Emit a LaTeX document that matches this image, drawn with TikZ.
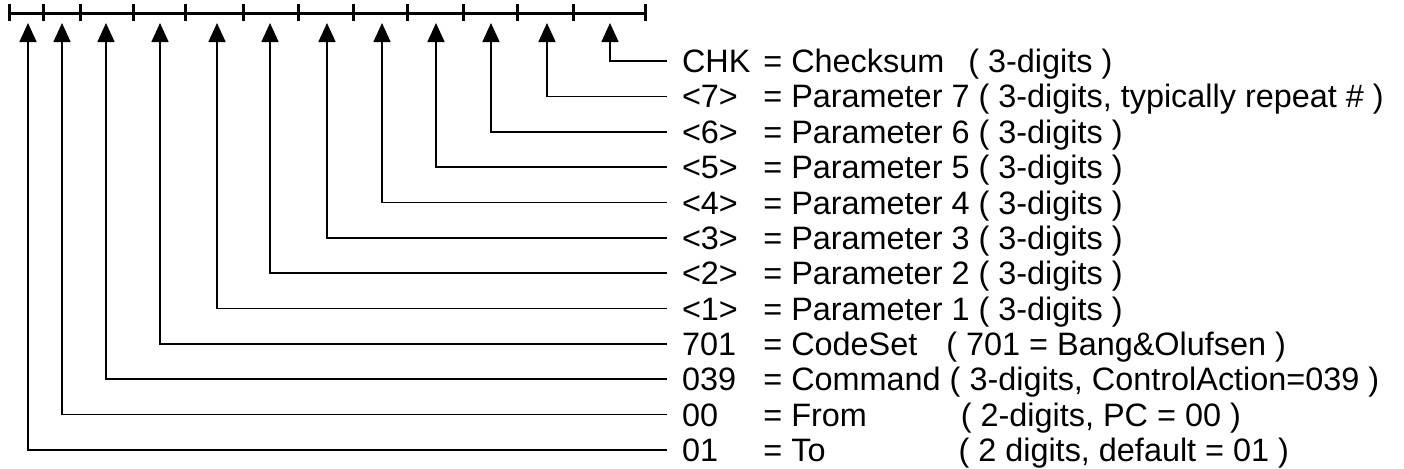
\documentclass[tikz,border=0pt]{standalone}
\usepackage{fontspec}
\setmainfont{Liberation Sans}
\usetikzlibrary{arrows.meta}

\tikzset{
	lbl/.style={anchor=west, inner sep=0pt, text height=11.6pt, text depth=0pt,
		font=\fontsize{16.2}{18}\selectfont},
	code/.style={lbl, outer xsep=7.5pt},
	ptr/.style={-{Triangle[length=9.5pt, width=8.5pt]}, line width=0.85pt},
}

\begin{document}
\begin{tikzpicture}[x=0.5pt, y=-0.5pt]
\useasboundingbox (0,0) rectangle (1404,468);
% ruler
\draw [line width=1.5pt] (9,13) -- (645,13);
\foreach \x in {9,43,80,133,185,243,298,353,407,463,517,573,645}
	\draw [line width=1.5pt] (\x,4) -- (\x,21);
% fields, top to bottom
\foreach \i/\ax/\code/\desc in {
	0/610/CHK/{= Checksum\hspace{12pt}( 3-digits )},
	1/547/{<7>}/{= Parameter 7 ( 3-digits, typically repeat \# )},
	2/491/{<6>}/{= Parameter 6 ( 3-digits )},
	3/436/{<5>}/{= Parameter 5 ( 3-digits )},
	4/382/{<4>}/{= Parameter 4 ( 3-digits )},
	5/327/{<3>}/{= Parameter 3 ( 3-digits )},
	6/270/{<2>}/{= Parameter 2 ( 3-digits )},
	7/217/{<1>}/{= Parameter 1 ( 3-digits )},
	8/160/701/{= CodeSet\hspace{14.5pt}( 701 = Bang\&Olufsen )},
	9/106/039/{= Command ( 3-digits, ControlAction=039 )},
	10/62/00/{= From\hspace{47pt}( 2-digits, PC = 00 )},
	11/28/01/{= To\hspace{66.5pt}( 2 digits, default = 01 )}}
{
	\coordinate (t\i) at (\ax,23);
	\node [code] (c\i) at (667,{61+35.36*\i}) {\code};
	\node [lbl] (d\i) at (763,{61+35.36*\i}) {\desc};
	\draw [ptr] (c\i.west) -| (t\i);
}
\end{tikzpicture}
\end{document}
